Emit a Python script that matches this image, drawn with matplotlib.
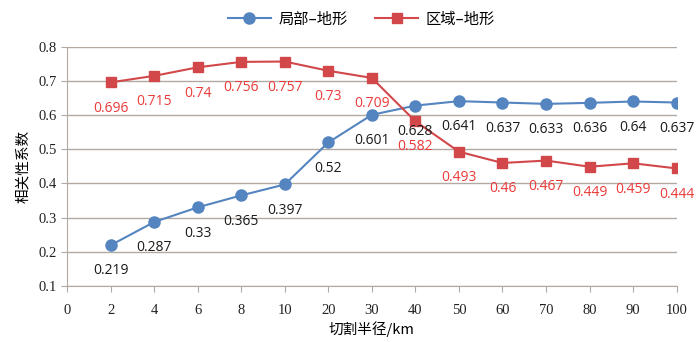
import numpy as np
import matplotlib
matplotlib.use("Agg")
from matplotlib import pyplot as plt

# x categories (km) and series values
radius_labels = ["0", "2", "4", "6", "8", "10", "20", "30", "40", "50", "60", "70", "80", "90", "100"]
local_terrain = [0.219, 0.287, 0.33, 0.365, 0.397, 0.52, 0.601, 0.628, 0.641, 0.637, 0.633, 0.636, 0.64, 0.637]
region_terrain = [0.696, 0.715, 0.74, 0.756, 0.757, 0.73, 0.709, 0.582, 0.493, 0.46, 0.467, 0.449, 0.459, 0.444]

cjk = ["Noto Sans CJK SC", "DejaVu Sans"]
serif = ["Liberation Serif", "DejaVu Serif"]
label_font = ["Open Sans", "DejaVu Sans"]

blue = "#5585C0"
red = "#D2484A"
axis_col = "#B3A9A3"

fig = plt.figure(figsize=(7.0, 3.42), dpi=100)
ax = fig.add_axes([0.0957, 0.164, 0.871, 0.699])

pos = np.arange(1, len(radius_labels))
ax.plot(pos, local_terrain, color=blue, marker="o", markersize=8, lw=1.5, label="局部–地形", zorder=3)
ax.plot(pos, region_terrain, color=red, marker="s", markersize=7.5, lw=1.5, label="区域–地形", zorder=3)

# data labels sit below each point
for x, v in zip(pos, local_terrain):
    ax.annotate(f"{v:g}", (x, v), xytext=(0, -18.5), textcoords="offset points",
                ha="center", va="center", fontsize=10, color="#1a1a1a", family=label_font)
for x, v in zip(pos, region_terrain):
    ax.annotate(f"{v:g}", (x, v), xytext=(0, -18.5), textcoords="offset points",
                ha="center", va="center", fontsize=10, color="#EA3A38", family=label_font)

ax.set_xlim(0, 14)
ax.set_ylim(0.1, 0.8)
ax.set_xticks(np.arange(len(radius_labels)))
ax.set_xticklabels(radius_labels, family=serif, fontsize=10.5)
yt = np.round(np.arange(0.1, 0.81, 0.1), 1)
ax.set_yticks(yt)
ax.set_yticklabels([f"{v:.1f}" for v in yt], family=serif, fontsize=10.5)
ax.grid(axis="y", color=axis_col, lw=1)
ax.set_axisbelow(True)

for side in ["top", "right"]:
    ax.spines[side].set_visible(False)
for side in ["left", "bottom"]:
    ax.spines[side].set_color(axis_col)
ax.tick_params(axis="both", colors=axis_col, length=4, labelcolor="#222222")
ax.tick_params(axis="x", pad=9)

ax.set_xlabel("切割半径/km", family=cjk, fontsize=10.5, labelpad=3)
ax.set_ylabel("相关性系数", family=cjk, fontsize=10.5, labelpad=6)

ax.legend(loc="upper center", bbox_to_anchor=(0.483, 1.21), ncol=2, frameon=False,
          prop={"family": cjk, "size": 11}, columnspacing=1.8, handlelength=2.8,
          handletextpad=0.5)

fig.savefig("out.png", dpi=100)
